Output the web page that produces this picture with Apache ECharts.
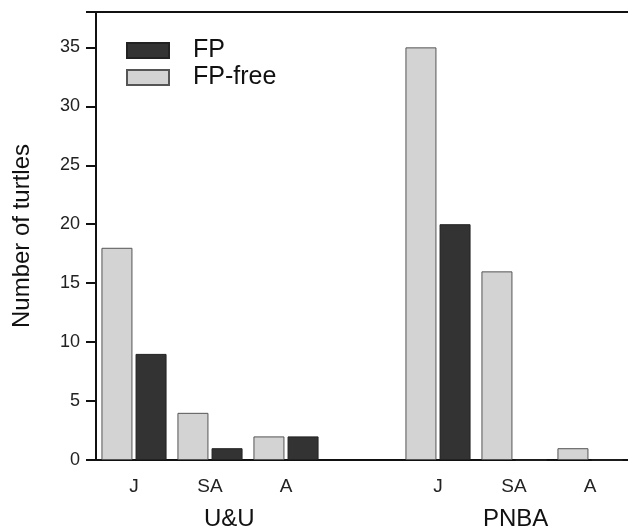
<!DOCTYPE html>
<html>
<head>
<meta charset="utf-8">
<script src="https://cdn.jsdelivr.net/npm/echarts@6/dist/echarts.min.js"></script>
<style>html,body{margin:0;padding:0;background:#fff}#c{width:628px;height:531px}</style>
</head>
<body>
<div id="c"></div>
<script>
var categories = ['J', 'SA', 'A', '', 'J', 'SA', 'A'];
var fpFree = [18, 4, 2, null, 35, 16, 1];
var fp = [9, 1, 2, null, 20, 0, 0];
var groupNames = ['U&U', 'PNBA'];
var yTicks = [0, 5, 10, 15, 20, 25, 30, 35];

var FONT = '"Liberation Sans", Arial, sans-serif';
var chart = echarts.init(document.getElementById('c'));
chart.setOption({
  animation: false,
  textStyle: { fontFamily: FONT },
  grid: { left: 96, right: 0, top: 12, bottom: 71, containLabel: false, outerBoundsMode: 'none' },
  legend: {
    data: ['FP', 'FP-free'],
    orient: 'vertical',
    left: 121, top: 33,
    itemWidth: 42, itemHeight: 15, itemGap: 2,
    icon: 'rect',
    textStyle: { fontSize: 25, color: '#111', fontFamily: FONT, padding: [0, 0, 0, 19] }
  },
  xAxis: [{
    type: 'category', data: categories, position: 'bottom',
    axisLine: { lineStyle: { color: '#111', width: 2 } },
    axisTick: { alignWithLabel: true, length: 10, lineStyle: { color: '#111', width: 2 } },
    axisLabel: { fontSize: 19, color: '#222', margin: 17, interval: 0 }
  }, {
    type: 'category', data: categories, position: 'top',
    axisLine: { lineStyle: { color: '#111', width: 2 } },
    axisTick: { show: false }, axisLabel: { show: false }
  }],
  yAxis: {
    type: 'value', min: 0, max: 38, interval: 5,
    axisLine: { show: true, lineStyle: { color: '#111', width: 2 } },
    axisTick: { show: true, length: 10, lineStyle: { color: '#111', width: 2 } },
    axisLabel: { fontSize: 18, color: '#222', margin: 16,
      formatter: function (v) { return yTicks.indexOf(v) >= 0 ? String(v) : ''; } },
    splitLine: { show: false },
    name: 'Number of turtles', nameLocation: 'middle', nameGap: 62, nameRotate: 90,
    nameTextStyle: { fontSize: 24, color: '#111', fontFamily: FONT }
  },
  series: [{
    name: 'FP-free', type: 'bar', data: fpFree, barWidth: 31, barGap: '10%',
    itemStyle: { color: '#d3d3d3', borderColor: '#555', borderWidth: 1 }
  }, {
    name: 'FP', type: 'bar', data: fp, barWidth: 31, barGap: '10%',
    itemStyle: { color: '#333', borderColor: '#222', borderWidth: 1 }
  }],
  graphic: [{
    type: 'text', left: 204, top: 507,
    style: { text: groupNames[0], font: '24px ' + FONT, fill: '#111' }
  }, {
    type: 'text', left: 483, top: 507,
    style: { text: groupNames[1], font: '24px ' + FONT, fill: '#111' }
  }]
});
</script>
</body>
</html>
